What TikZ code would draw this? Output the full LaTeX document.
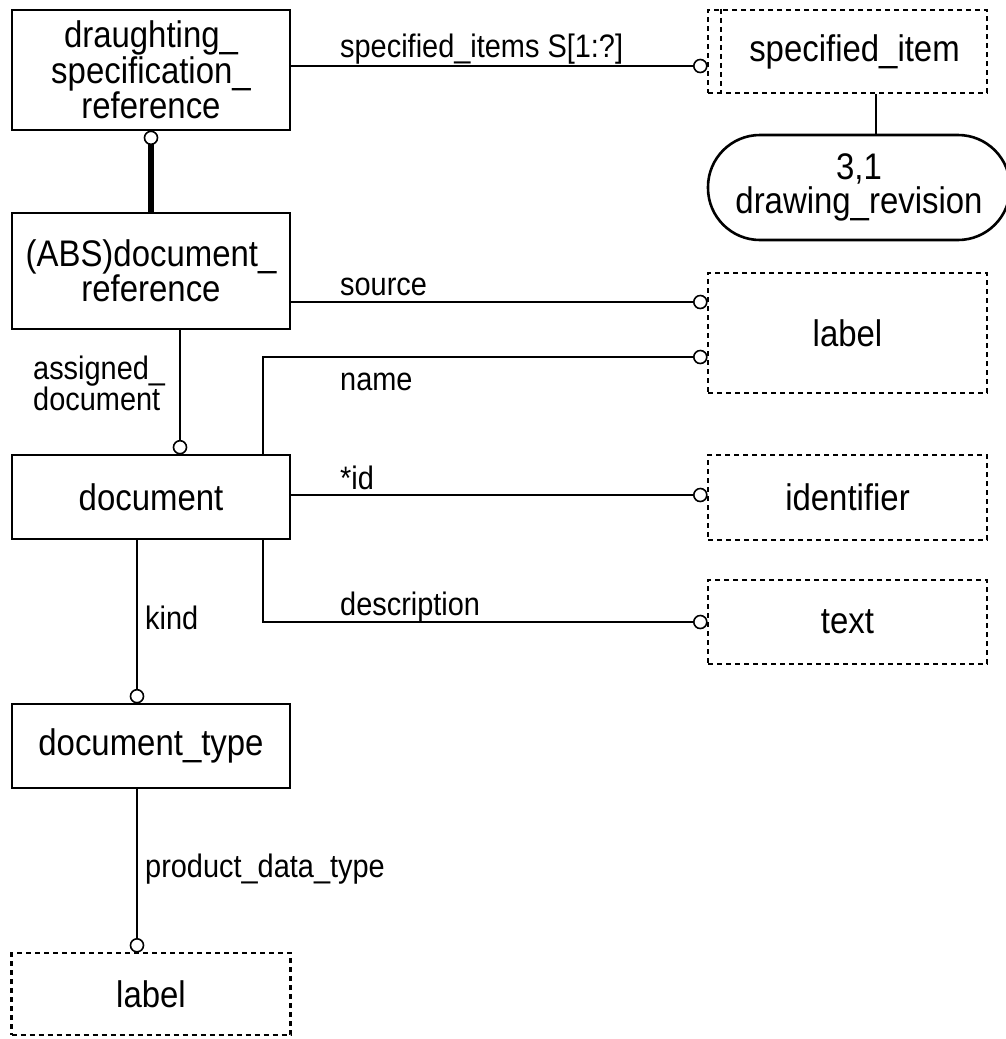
\documentclass[tikz,border=0pt]{standalone}
\usepackage{fontspec}
\setmainfont{Liberation Sans}[FakeStretch=0.89]
\usetikzlibrary{calc}
\begin{document}
\begin{tikzpicture}[x=1pt,y=-1pt,
  ent/.style={draw, line width=2.6pt, minimum width=278pt, inner sep=0pt, align=center,
    font=\fontsize{37}{34}\selectfont},
  sel/.style={ent, dash pattern=on 5pt off 4pt, line width=2.4pt, minimum width=279pt},
  conn/.style={line width=2.4pt},
  lab/.style={font=\fontsize{32.5}{29}\selectfont, inner sep=0pt, align=left},
  ocirc/.style={circle, draw, line width=1.6pt, fill=white, minimum size=13pt, inner sep=0pt}]
\useasboundingbox (0,0) rectangle (1005,1039);
% entities
\node[ent, minimum height=120pt] (dsr) at (151,70) {draughting\_\\specification\_\\reference};
\node[sel, minimum height=83pt] (si) at (847.5,51.5) {\hspace*{14pt}specified\_item};
\draw[line width=2.4pt, dash pattern=on 5pt off 4pt] ([xshift=14pt]si.north west) -- ([xshift=14pt]si.south west);
\node[ent, minimum width=302pt, minimum height=105pt, rounded corners=52pt] (dr) at (859,187.5) {3,1\\drawing\_revision};
\node[ent, minimum height=116pt] (docref) at (151,271) {(ABS)document\_\\reference};
\node[sel, minimum height=120pt] (lab1) at (847.5,333) {label};
\node[ent, minimum height=84pt] (doc) at (151,497) {document};
\node[sel, minimum height=85pt] (ident) at (847.5,497.5) {identifier};
\node[sel, minimum height=84pt] (txt) at (847.5,622) {text};
\node[ent, minimum height=84pt] (dtype) at (151,746) {document\_type};
\node[sel, minimum height=82pt] (lab2) at (151,994) {label};
% circle anchor points
\coordinate (c1) at ($(si.west |- 0,66)+(-6.5,0)$);
\coordinate (c2) at ($(dsr.south)+(0,6.5)$);
\coordinate (c3) at ($(lab1.west |- 0,302)+(-6.5,0)$);
\coordinate (c4) at ($(lab1.west |- 0,357)+(-6.5,0)$);
\coordinate (c5) at ($(doc.north -| 180,0)+(0,-6.5)$);
\coordinate (c6) at ($(ident.west |- 0,495)+(-6.5,0)$);
\coordinate (c7) at ($(txt.west |- 0,622)+(-6.5,0)$);
\coordinate (c8) at ($(dtype.north -| 137,0)+(0,-6.5)$);
\coordinate (c9) at ($(lab2.north -| 137,0)+(0,-6.5)$);
% connectors
\draw[conn] (dsr.east |- c1) -- (c1);
\draw[line width=6pt] (c2) -- (docref.north -| c2);
\draw[conn] (si.south -| 876,0) -- (dr.north -| 876,0);
\draw[conn] (docref.east |- c3) -- (c3);
\draw[conn] (doc.north -| 263,0) |- (c4);
\draw[conn] (docref.south -| c5) -- (c5);
\draw[conn] (doc.east |- c6) -- (c6);
\draw[conn] (doc.south -| 263,0) |- (c7);
\draw[conn] (doc.south -| c8) -- (c8);
\draw[conn] (dtype.south -| c9) -- (c9);
\foreach \c in {c1,c2,c3,c4,c5,c6,c7,c8,c9} \node[ocirc] at (\c) {};
% labels
\node[lab, anchor=base west] (l1) at (340,57.5) {specified\_items S[1:?]};
\node[lab, anchor=base west] (l2) at (340,295) {source};
\node[lab, anchor=base west] (l3) at (340,390.5) {name};
\node[lab, anchor=base west] (l4) at (33,410.5) {assigned\_\\document};
\node[lab, anchor=base west] (l5) at (340,489) {*id};
\node[lab, anchor=base west] (l6) at (340,615) {description};
\node[lab, anchor=base west] (l7) at (145,629) {kind};
\node[lab, anchor=base west] (l8) at (145,877) {product\_data\_type};
\end{tikzpicture}
\end{document}
